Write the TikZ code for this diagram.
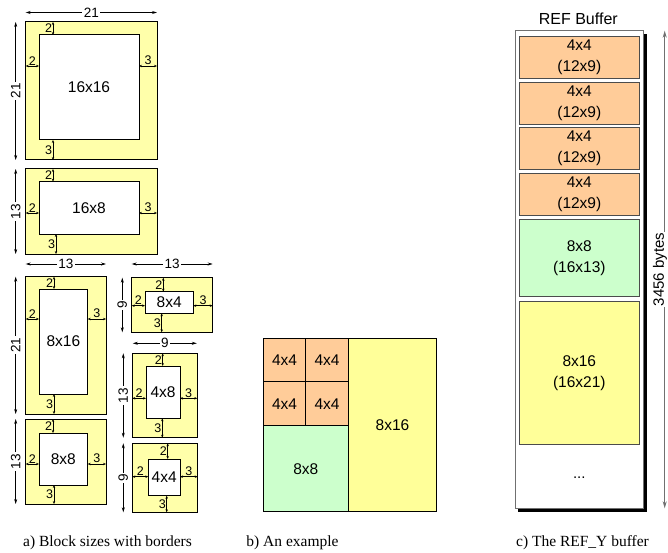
\documentclass[tikz,border=0pt]{standalone}
\usepackage{fontspec}
\setmainfont{Liberation Sans}
\newfontfamily\capfont{Liberation Serif}
\usetikzlibrary{calc,arrows.meta}
\definecolor{ayel}{HTML}{FFFFAA}
\definecolor{byel}{HTML}{FFFF99}
\definecolor{bora}{HTML}{FFCC99}
\definecolor{bgrn}{HTML}{CCFFCC}
\definecolor{agray}{HTML}{707070}
\newcommand\myblk[9]{%
  \coordinate (#1-o1) at (#2); \coordinate (#1-o2) at (#3);
  \coordinate (#1-i1) at (#4); \coordinate (#1-i2) at (#5);
  \coordinate (#1-t) at (#6,0); \coordinate (#1-b) at (#7,0); \coordinate (#1-s) at (0,#8);
  \draw[outerbox] (#1-o1) rectangle (#1-o2);
  \draw[innerbox] (#1-i1) rectangle (#1-i2);
  \node[boxlbl] (#1-lbl) at ($(#1-i1)!0.5!(#1-i2)$) {#9};
  \draw[bdim] (#1-o1 -| #1-t) -- node[left,smalllbl]{2} (#1-i1 -| #1-t);
  \draw[bdim] (#1-i2 -| #1-b) -- node[left,smalllbl]{3} (#1-o2 -| #1-b);
  \draw[bdim] (#1-o1 |- #1-s) -- node[above,smalllbl]{2} (#1-i1 |- #1-s);
  \draw[bdim] (#1-i2 |- #1-s) -- node[above,smalllbl]{3} (#1-o2 |- #1-s);
}
\tikzset{
  outerbox/.style={draw=black,line width=1pt,fill=ayel},
  innerbox/.style={draw=black,line width=1pt,fill=white},
  boxlbl/.style={font=\fontsize{15.5}{18}\selectfont,inner sep=0pt},
  smalllbl/.style={font=\fontsize{12.5}{14}\selectfont,inner sep=0.6pt},
  bdim/.style={line width=0.6pt,arrows={Stealth[length=3pt,width=2.4pt]-Stealth[length=3pt,width=2.4pt]}},
  odim/.style={line width=0.7pt,arrows={Stealth[length=5pt,width=3pt]-Stealth[length=5pt,width=3pt]}},
  dimlbl/.style={fill=white,inner sep=1.5pt,font=\fontsize{13.5}{15}\selectfont},
  cell/.style={draw=black,line width=1pt,font=\fontsize{15.5}{18}\selectfont,inner sep=0pt},
  rcell/.style={draw=black!70,line width=0.8pt,minimum width=120pt,align=center,font=\fontsize{15.5}{21}\selectfont,inner sep=0pt},
  caption/.style={font=\capfont\fontsize{15.5}{18}\selectfont,anchor=base,inner sep=0pt},
}
\begin{document}
\begin{tikzpicture}[x=1pt,y=-1pt]
\useasboundingbox (0,0) rectangle (668,553);
% ---- a) blocks
\myblk{A}{25.7,22}{157,160}{39,35}{139,140}{53}{53}{66}{16x16}
\myblk{B}{25.7,169}{157,254}{39,181.7}{139,234}{53}{56}{213}{16x8}
\myblk{C}{25.7,276.7}{106,414}{39,289}{87.7,394}{54}{54}{319}{8x16}
\myblk{D}{25.7,419}{106,504}{39,433}{87.7,485}{53}{54}{464}{8x8}
\myblk{E}{131.7,277.7}{212.7,332.3}{145,291.7}{193.3,313.3}{163.3}{161.7}{305.7}{8x4}
\myblk{F}{132.3,353.3}{197.3,437.7}{146,366}{180,418.3}{162.7}{162.3}{398.3}{4x8}
\myblk{G}{132.3,443.3}{197.7,512.3}{148.3,459}{180,495.7}{167.7}{166.7}{476.7}{4x4}
% outer dimensions
\coordinate (tA1) at (25.7,12.5); \coordinate (tA2) at (157,12.5);
\draw[odim] (tA1) -- node[dimlbl]{21} (tA2);
\coordinate (tC1) at (25.7,264); \coordinate (tC2) at (106,264);
\draw[odim] (tC1) -- node[dimlbl]{13} (tC2);
\coordinate (tE1) at (131.7,264); \coordinate (tE2) at (212.7,264);
\draw[odim] (tE1) -- node[dimlbl]{13} (tE2);
\coordinate (tF1) at (132.8,343.3); \coordinate (tF2) at (196.8,343.3);
\draw[odim] (tF1) -- node[dimlbl]{9} (tF2);
\coordinate (lA1) at (15.7,22); \coordinate (lA2) at (15.7,160);
\draw[odim] (lA1) -- node[dimlbl,rotate=90]{21} (lA2);
\coordinate (lB1) at (15.7,169); \coordinate (lB2) at (15.7,254);
\draw[odim] (lB1) -- node[dimlbl,rotate=90]{13} (lB2);
\coordinate (lC1) at (15.7,276.7); \coordinate (lC2) at (15.7,414);
\draw[odim] (lC1) -- node[dimlbl,rotate=90]{21} (lC2);
\coordinate (lD1) at (15.7,419); \coordinate (lD2) at (15.7,504);
\draw[odim] (lD1) -- node[dimlbl,rotate=90]{13} (lD2);
\coordinate (lE1) at (122.3,277.7); \coordinate (lE2) at (122.3,332.3);
\draw[odim] (lE1) -- node[dimlbl,rotate=90]{9} (lE2);
\coordinate (lF1) at (123.3,353.3); \coordinate (lF2) at (123.3,437.7);
\draw[odim] (lF1) -- node[dimlbl,rotate=90]{13} (lF2);
\coordinate (lG1) at (123.3,443.3); \coordinate (lG2) at (123.3,512.3);
\draw[odim] (lG1) -- node[dimlbl,rotate=90]{9} (lG2);
% ---- b) example
\node[cell,fill=bora,minimum width=42.4pt,minimum height=43.4pt] (b11) at (284.5,360) {4x4};
\node[cell,fill=bora,minimum width=42.6pt,minimum height=43.4pt] (b12) at (327,360) {4x4};
\node[cell,fill=bora,minimum width=42.4pt,minimum height=44pt] (b21) at (284.5,403.7) {4x4};
\node[cell,fill=bora,minimum width=42.6pt,minimum height=44pt] (b22) at (327,403.7) {4x4};
\node[cell,fill=bgrn,minimum width=85pt,minimum height=86pt] (b8) at (305.8,468.7) {8x8};
\node[cell,fill=byel,minimum width=88.4pt,minimum height=173.4pt] (b816) at (392.5,425) {8x16};
% ---- c) REF buffer
\node[font=\fontsize{16}{18}\selectfont,inner sep=0pt] (rtitle) at (578.3,18.5) {REF Buffer};
\fill[black] (518.2,33.9) rectangle (646.5,511.5);
\draw[draw=agray,line width=0.8pt,fill=white] (515,30.7) rectangle (643.3,508.3);
\node[rcell,fill=bora,minimum height=42.3pt] (r1) at (579.3,57.15) {4x4\\(12x9)};
\node[rcell,fill=bora,minimum height=41.7pt] (r2) at (579.3,103.15) {4x4\\(12x9)};
\node[rcell,fill=bora,minimum height=41.6pt] (r3) at (579.3,148.5) {4x4\\(12x9)};
\node[rcell,fill=bora,minimum height=41.7pt] (r4) at (579.3,194.15) {4x4\\(12x9)};
\node[rcell,fill=bgrn,minimum height=77.4pt] (r5) at (579.3,258) {8x8\\(16x13)};
\node[rcell,fill=byel,minimum height=142.6pt] (r6) at (579.3,373) {8x16\\(16x21)};
\node[font=\fontsize{15}{18}\selectfont,inner sep=0pt] (rdots) at (579.3,478) {...};
\coordinate (ra1) at (664.7,30.7); \coordinate (ra2) at (664.7,508.3);
\draw[draw=agray,line width=1pt,arrows={Stealth[length=7pt,width=4pt]-Stealth[length=7pt,width=4pt]}] (ra1) -- node[xshift=-4.6pt,rotate=90,fill=white,inner sep=1pt,text=black,font=\fontsize{15}{17}\selectfont]{3456 bytes} (ra2);
% ---- captions
\node[caption] (capa) at (107.5,546) {a) Block sizes with borders};
\node[caption] (capb) at (292.5,546) {b) An example};
\node[caption] (capc) at (582.5,546) {c) The REF\_Y buffer};
\end{tikzpicture}
\end{document}
